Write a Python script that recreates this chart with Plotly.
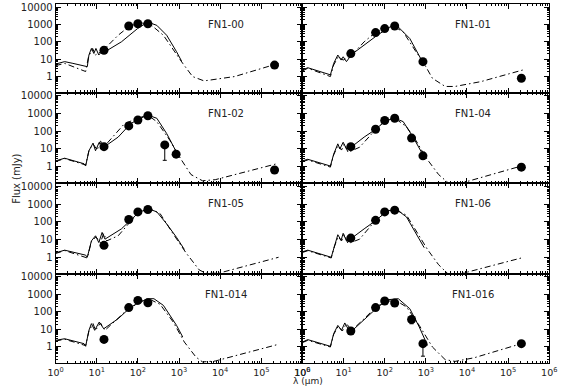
import numpy as np
import plotly.graph_objects as go

W, H = 566, 392

PANELS = ["FN1-00", "FN1-01", "FN1-02", "FN1-04", "FN1-05", "FN1-06", "FN1-014", "FN1-016"]

# photometric bands (micron)
BANDS = [15, 60, 100, 175, 450, 850, 210000]

# observed fluxes (mJy), None = not observed
FN1_00_FLUX = [33, 820, 1100, 1100, None, None, 4.6]
FN1_01_FLUX = [21, 340, 580, 820, None, 7.2, 0.8]
FN1_02_FLUX = [13.5, 200, 430, 740, 17, 5.1, 0.65]
FN1_04_FLUX = [13.5, 130, 400, 540, 41, 4.1, 0.95]
FN1_05_FLUX = [4.7, 135, 360, 490, None, None, None]
FN1_06_FLUX = [12, 120, 360, 450, None, None, None]
FN1_014_FLUX = [2.7, 175, 450, 330, None, None, None]
FN1_016_FLUX = [8.1, 175, 415, 320, 37, 1.55, 1.55]

# error bars (mJy): lower, upper
FN1_02_ERR_LO = [0, 0, 0, 0, 14.7, 0, 0]
FN1_02_ERR_HI = [0, 0, 0, 0, 3, 0, 0]
FN1_016_ERR_LO = [0, 0, 0, 0, 16, 1.25, 0]
FN1_016_ERR_HI = [0, 0, 0, 0, 3, 0.3, 0]

# model SEDs as (log10 lambda[um], log10 flux[mJy])
FN1_00_SOLID = [(0, 0.72), (0.22, 0.86), (0.42, 0.76), (0.77, 0.57), (0.81, 1.24), (0.87, 1.62), (0.93, 1.33),
                (0.98, 1.62), (1.05, 1.24), (1.13, 1.47), (1.2, 1.43), (1.6, 2.0), (1.99, 2.76), (2.24, 3.14),
                (2.46, 2.95), (2.7, 2.38), (2.94, 1.43), (3.06, 0.9)]
FN1_00_DASH = [(0, 0.63), (0.22, 0.76), (0.73, 0.29), (0.8, 1.14), (0.9, 1.62), (0.97, 1.24), (1.09, 1.43),
               (1.2, 1.62), (1.52, 2.38), (1.8, 2.91), (2.07, 3.1), (2.31, 2.99), (2.62, 2.38), (2.86, 1.52),
               (3.09, 0.76), (3.33, 0.0), (3.61, -0.25), (4.35, 0.0), (5.42, 0.76)]

FN1_01_SOLID = [(0, 0.38), (0.13, 0.51), (0.68, 0.1), (0.76, 0.76), (0.86, 1.24), (0.94, 0.95), (0.99, 1.14),
                (1.07, 0.86), (1.2, 1.28), (1.5, 1.81), (1.82, 2.38), (2.13, 2.86), (2.29, 2.95), (2.61, 2.19),
                (2.84, 1.14), (2.96, 0.67)]
FN1_01_DASH = [(0, 0.32), (0.13, 0.48), (0.68, 0.0), (0.76, 0.67), (0.87, 1.14), (0.99, 0.95), (1.2, 1.24),
               (1.5, 2.0), (1.79, 2.57), (2.06, 2.86), (2.21, 2.91), (2.45, 2.57), (2.76, 1.43), (2.93, 0.86),
               (3.16, -0.1), (3.47, -0.57), (3.71, -0.57), (4.34, -0.29), (5.36, 0.38)]

FN1_02_SOLID = [(0, 0.33), (0.22, 0.48), (0.69, 0.17), (0.73, 0.04), (0.81, 0.9), (0.91, 1.33), (0.97, 0.9),
                (1.06, 1.38), (1.19, 1.13), (1.52, 1.67), (1.83, 2.44), (2.23, 2.92), (2.46, 2.73), (2.7, 1.87),
                (2.94, 0.81), (3.02, 0.52)]
FN1_02_DASH = [(0, 0.29), (0.22, 0.46), (0.73, 0.1), (0.81, 0.9), (0.91, 1.29), (1.01, 0.94), (1.09, 1.44),
               (1.2, 1.19), (1.68, 2.44), (2.07, 2.79), (2.23, 2.92), (2.46, 2.54), (2.78, 1.48), (3.02, 0.52),
               (3.29, -0.44), (3.57, -0.79), (3.88, -0.73), (5.38, 0.17)]

FN1_04_SOLID = [(0, 0.33), (0.13, 0.42), (0.68, 0.04), (0.76, 0.71), (0.86, 1.29), (0.91, 1.0), (0.99, 1.38),
                (1.07, 1.0), (1.2, 1.13), (1.5, 1.67), (1.79, 2.12), (2.02, 2.6), (2.25, 2.73), (2.45, 2.54),
                (2.69, 1.67), (2.92, 0.71)]
FN1_04_DASH = [(0, 0.29), (0.13, 0.38), (0.68, -0.02), (0.76, 0.67), (0.86, 1.19), (0.95, 0.94), (1.02, 1.29),
               (1.11, 0.81), (1.39, 1.1), (1.79, 2.12), (2.06, 2.67), (2.25, 2.73), (2.53, 2.25), (2.76, 1.48),
               (3.0, 0.52), (3.31, -0.44), (3.55, -0.92), (3.87, -0.92), (5.32, 0.04)]

FN1_05_SOLID = [(0, 0.25), (0.22, 0.4), (0.73, 0.12), (0.77, 0.0), (0.87, 0.92), (0.97, 1.21), (1.05, 0.83),
                (1.13, 1.4), (1.2, 1.02), (1.6, 1.6), (1.99, 2.46), (2.23, 2.75), (2.46, 2.56), (2.7, 1.88),
                (2.94, 1.12), (3.13, 0.44)]
FN1_05_DASH = [(0, 0.21), (0.22, 0.38), (0.77, -0.04), (0.87, 0.88), (0.98, 1.15), (1.09, 0.83), (1.17, 1.35),
               (1.24, 0.92), (1.52, 1.21), (1.99, 2.46), (2.27, 2.75), (2.54, 2.46), (2.86, 1.31), (3.17, 0.25),
               (3.49, -0.71), (3.65, -0.9), (3.96, -0.9), (5.42, 0.0)]

FN1_06_SOLID = [(0, 0.31), (0.13, 0.4), (0.7, 0.0), (0.78, 0.69), (0.86, 1.27), (0.94, 0.96), (0.99, 1.35),
                (1.07, 0.92), (1.2, 1.08), (1.5, 1.6), (1.79, 2.08), (2.06, 2.62), (2.29, 2.69), (2.53, 2.27),
                (2.76, 1.31), (2.96, 0.54)]
FN1_06_DASH = [(0, 0.27), (0.13, 0.37), (0.7, -0.04), (0.78, 0.63), (0.87, 1.15), (0.95, 0.92), (1.02, 1.27),
               (1.11, 0.77), (1.39, 1.02), (1.79, 2.12), (2.06, 2.56), (2.25, 2.69), (2.53, 2.37), (2.76, 1.5),
               (3.04, 0.44), (3.31, -0.42), (3.55, -0.96), (3.87, -0.92), (5.32, -0.04)]

FN1_014_SOLID = [(0, 0.38), (0.22, 0.47), (0.69, 0.19), (0.73, 0.04), (0.81, 0.95), (0.87, 1.33), (0.95, 0.95),
                 (1.06, 1.42), (1.17, 1.04), (1.52, 1.61), (1.83, 2.28), (2.23, 2.75), (2.39, 2.75), (2.62, 2.37),
                 (2.94, 1.23), (3.09, 0.57)]
FN1_014_DASH = [(0, 0.34), (0.22, 0.44), (0.73, 0.08), (0.81, 0.91), (0.91, 1.33), (0.97, 0.95), (1.09, 1.37),
                (1.2, 0.95), (1.68, 1.99), (2.07, 2.62), (2.31, 2.69), (2.54, 2.43), (2.86, 1.42), (3.13, 0.28),
                (3.41, -0.57), (3.57, -0.85), (3.88, -0.8), (5.38, 0.13)]

FN1_016_SOLID = [(0, 0.28), (0.13, 0.42), (0.68, 0.04), (0.76, 0.76), (0.86, 1.23), (0.95, 0.95), (1.03, 1.37),
                 (1.13, 0.95), (1.2, 0.91), (1.5, 1.56), (1.79, 2.18), (2.06, 2.69), (2.33, 2.75), (2.61, 2.18),
                 (2.84, 1.14), (3.04, 0.09)]
FN1_016_DASH = [(0, 0.25), (0.13, 0.38), (0.68, 0.0), (0.76, 0.72), (0.87, 1.18), (0.97, 0.91), (1.07, 1.33),
                (1.2, 0.95), (1.5, 1.61), (1.79, 2.28), (2.06, 2.62), (2.29, 2.62), (2.53, 2.28), (2.84, 1.23),
                (3.16, 0.0), (3.47, -0.72), (3.71, -0.82), (4.18, -0.61), (5.32, 0.19)]

X_TICKS = [1, 10, 100, 1000, 1e4, 1e5, 1e6]
X_TICKTEXT = ["10<sup>0</sup>", "10<sup>1</sup>", "10<sup>2</sup>", "10<sup>3</sup>",
              "10<sup>4</sup>", "10<sup>5</sup>", "10<sup>6</sup>"]
Y_TICKS = [1, 10, 100, 1000, 10000]
Y_TICKTEXT = ["1", "10", "100", "1000", "10000"]

SOLIDS = [FN1_00_SOLID, FN1_01_SOLID, FN1_02_SOLID, FN1_04_SOLID, FN1_05_SOLID, FN1_06_SOLID, FN1_014_SOLID, FN1_016_SOLID]
DASHES = [FN1_00_DASH, FN1_01_DASH, FN1_02_DASH, FN1_04_DASH, FN1_05_DASH, FN1_06_DASH, FN1_014_DASH, FN1_016_DASH]
FLUXES = [FN1_00_FLUX, FN1_01_FLUX, FN1_02_FLUX, FN1_04_FLUX, FN1_05_FLUX, FN1_06_FLUX, FN1_014_FLUX, FN1_016_FLUX]
ERRS = {2: (FN1_02_ERR_LO, FN1_02_ERR_HI), 7: (FN1_016_ERR_LO, FN1_016_ERR_HI)}

minor_x = [m * 10 ** d for d in range(0, 6) for m in range(2, 10)]
minor_y = [m * 10 ** d for d in range(-1, 5) for m in range(2, 10)]

# layout geometry (pixels)
COL_X = [(49, 303), (303, 557)]
ROW_Y = [(2, 91), (91, 182), (182, 273), (273, 363)]
LABEL_X = [224, 479]

FONT = "DejaVu Sans"
TXT = "#222222"

fig = go.Figure()
layout = dict(width=W, height=H, margin=dict(l=0, r=0, t=0, b=0),
              paper_bgcolor="white", plot_bgcolor="white", showlegend=False)
annotations = []

for i, name in enumerate(PANELS):
    row, col = i // 2, i % 2
    k = i + 1
    xa = "x" if k == 1 else f"x{k}"
    ya = "y" if k == 1 else f"y{k}"
    x0, x1 = COL_X[col]
    y0, y1 = ROW_Y[row]
    xd = [x0 / W, x1 / W]
    yd = [1 - y1 / H, 1 - y0 / H]
    bottom = row == 3
    left = col == 0
    layout["xaxis" if k == 1 else f"xaxis{k}"] = dict(
        type="log", range=[0, 6], domain=xd, anchor=ya,
        showline=True, linecolor="black", linewidth=1, mirror="ticks",
        ticks="inside", ticklen=5, tickwidth=1, tickcolor="black",
        tickmode="array", tickvals=X_TICKS, ticktext=X_TICKTEXT,
        showticklabels=bottom, tickfont=dict(family=FONT, size=9.5, color=TXT),
        minor=dict(ticks="inside", ticklen=2.5, tickcolor="black", tickmode="array", tickvals=minor_x),
        showgrid=False, zeroline=False)
    layout["yaxis" if k == 1 else f"yaxis{k}"] = dict(
        type="log", range=[-0.92, 4.18], domain=yd, anchor=xa,
        showline=True, linecolor="black", linewidth=1, mirror="ticks",
        ticks="inside", ticklen=5, tickwidth=1, tickcolor="black",
        tickmode="array", tickvals=Y_TICKS, ticktext=Y_TICKTEXT,
        showticklabels=left, tickfont=dict(family=FONT, size=10, color=TXT),
        minor=dict(ticks="inside", ticklen=2.5, tickcolor="black", tickmode="array", tickvals=minor_y),
        showgrid=False, zeroline=False)

    s = np.array(SOLIDS[i], dtype=float)
    d = np.array(DASHES[i], dtype=float)
    fig.add_trace(go.Scatter(x=10 ** s[:, 0], y=10 ** s[:, 1], mode="lines",
                             line=dict(color="black", width=1), xaxis=xa, yaxis=ya))
    fig.add_trace(go.Scatter(x=10 ** d[:, 0], y=10 ** d[:, 1], mode="lines",
                             line=dict(color="black", width=1, dash="6px,3px,1.5px,3px"), xaxis=xa, yaxis=ya))

    bx = [b for b, f in zip(BANDS, FLUXES[i]) if f is not None]
    by = [f for f in FLUXES[i] if f is not None]
    err = None
    if i in ERRS:
        lo, hi = ERRS[i]
        lo = [e for e, f in zip(lo, FLUXES[i]) if f is not None]
        hi = [e for e, f in zip(hi, FLUXES[i]) if f is not None]
        err = dict(type="data", symmetric=False, array=hi, arrayminus=lo,
                   color="black", thickness=1, width=2)
    fig.add_trace(go.Scatter(x=bx, y=by, mode="markers",
                             marker=dict(color="black", size=9, line=dict(width=0)),
                             error_y=err, xaxis=xa, yaxis=ya))

    annotations.append(dict(text=name, x=LABEL_X[col] / W, y=1 - (y0 + 21) / H,
                            xref="paper", yref="paper", showarrow=False,
                            xanchor="center", yanchor="middle",
                            font=dict(family=FONT, size=10, color=TXT)))

annotations.append(dict(text="Flux (mJy)", x=8 / W, y=1 - 178 / H, xref="paper", yref="paper",
                        showarrow=False, textangle=-90, xanchor="center", yanchor="middle",
                        font=dict(family=FONT, size=10, color=TXT)))
annotations.append(dict(text="λ (μm)", x=309 / W, y=1 - 381 / H, xref="paper", yref="paper",
                        showarrow=False, xanchor="center", yanchor="middle",
                        font=dict(family=FONT, size=9, color=TXT)))
layout["annotations"] = annotations
fig.update_layout(**layout)
fig.write_html("out.html",
               config={"displayModeBar": False, "staticPlot": True},
               post_script="document.body.style.margin='0';document.body.style.padding='0';")
